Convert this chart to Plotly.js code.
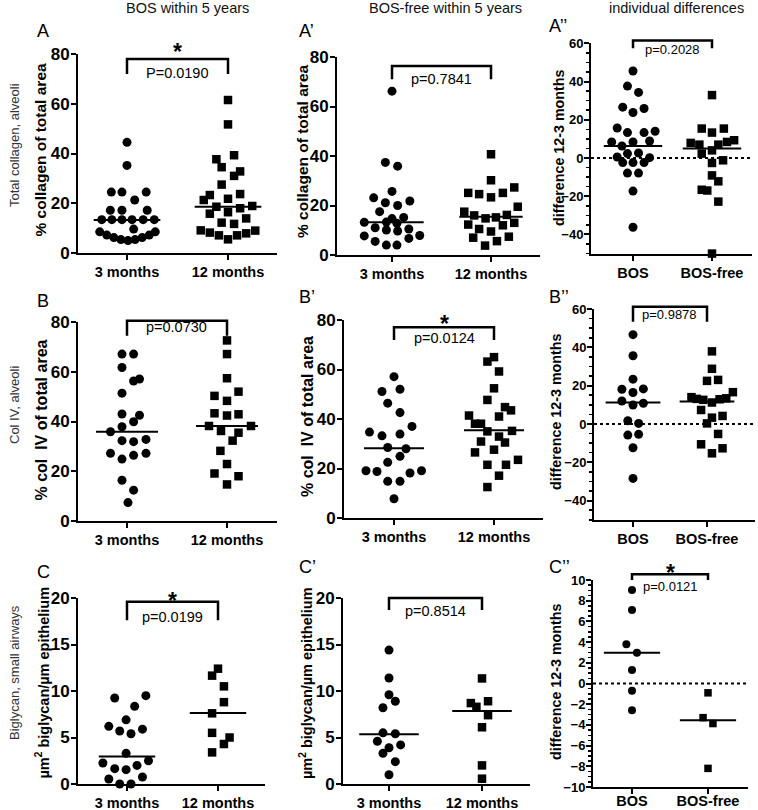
<!DOCTYPE html>
<html><head><meta charset="utf-8">
<script src="https://cdn.plot.ly/plotly-3.0.1.min.js"></script>
<style>body{margin:0;background:#fff}#chart{width:758px;height:810px}</style>
</head><body><div id="chart"></div>
<script>
// ---------- DATA ----------
const catsTime = ['3 months', '12 months'];
const catsDiff = ['BOS', 'BOS-free'];
const colHeaders = ['BOS within 5 years', 'BOS-free within 5 years', 'individual differences'];
const rowLabels = ['Total collagen, alveoli', 'Col IV, alveoli', 'Biglycan, small airways'];

// Row A: total collagen (% of total area)
const A_3m    = [44.5,35.2,24.5,24.5,24.5,21.3,17.2,17.2,17.2,13.4,13.4,13.4,13.4,13.4,13.4,9.6,8.5,7.2,6.2,5.4,5.0,5.4,6.2,7.2,8.5];
const A_3m_dx = [0,0,-0.155,-0.05,0.19,0.076,-0.165,-0.05,0.2,-0.25,-0.15,-0.05,0.05,0.16,0.27,0.066,-0.27,-0.2,-0.13,-0.06,0.01,0.08,0.15,0.22,0.28];
const A_12m    = [61.5,51.7,39.3,37.7,34.5,32.8,31.0,27.5,23.3,23.7,21.3,21.8,18.6,18.0,18.9,15.8,16.4,13.9,12.2,11.7,9.1,8.2,7.1,5.5,7.1,7.9,9.0];
const A_12m_dx = [0,0,0.06,-0.115,-0.063,0.12,0.06,-0.063,-0.18,0.12,-0.24,0,-0.115,0.12,0.24,-0.18,0,0.18,-0.063,0.06,-0.27,-0.18,-0.09,0,0.09,0.18,0.27];
const A_med = [13.3, 18.6];
const A_p = 'P=0.0190';

const A1_3m    = [66.2,37.4,35.9,23.1,25.7,21.1,20.0,21.8,17.5,14.7,15.2,13.2,11.0,13.3,12.8,10.5,7.7,10.1,9.7,6.7,7.9,5.5,4.0,4.0];
const A1_3m_dx = [0,-0.067,0.057,-0.185,0,-0.067,0.057,0.18,-0.125,0,0.118,-0.28,-0.17,-0.057,0.05,0.17,-0.28,-0.057,0.057,0.17,0.28,-0.17,-0.057,0.05];
const A1_12m    = [40.7,30.2,25.1,24.6,23.3,25.1,27.3,17.5,16.0,14.8,15.2,16.2,19.5,12.3,10.5,9.5,12.0,13.0,7.0,5.6,7.4,3.8];
const A1_12m_dx = [0,0,-0.23,-0.12,0,0.12,0.235,-0.27,-0.17,-0.055,0.05,0.16,0.27,-0.23,-0.12,0,0.12,0.235,-0.18,0.06,0.18,-0.06];
const A1_med = [13.2, 15.5];
const A1_p = 'p=0.7841';

const A2_bos    = [45.5,37.6,34.3,26.6,23.8,25.9,15.7,13.3,13.3,14.0,8.4,6.3,8.4,8.9,0.5,2.3,2.6,0.2,-2.4,-2.4,-2.4,-7.9,-7.9,-17.3,-36.2];
const A2_bos_dx = [0,-0.07,0.07,-0.13,0,0.14,-0.2,-0.07,0.14,0.28,-0.27,-0.14,0,0.21,-0.2,-0.07,0.07,0.21,-0.13,0,0.14,-0.07,0.07,0,0];
const A2_free    = [32.9,15.4,15.4,13.3,7.9,7.0,7.0,8.4,9.3,2.3,4.0,-1.2,-2.6,-9.1,-12.2,-16.6,-17.0,-22.8,-50.0];
const A2_free_dx = [0,-0.13,0.15,0,-0.27,-0.16,0.08,0.19,0.28,-0.13,0,0.14,0,0,0.08,-0.13,-0.06,0.08,0];
const A2_med = [6.3, 5.0];
const A2_p = 'p=0.2028';

// Row B: Col IV (% of total area)
const B_3m    = [67.1,67.1,61.7,56.3,57.1,51.4,43.0,42.5,39.9,37.9,35.9,32.3,31.9,32.8,27.2,26.4,27.2,24.9,16.4,12.4,7.4];
const B_3m_dx = [-0.05,0.066,-0.05,0.066,0.125,-0.05,-0.05,0.125,0.066,-0.05,-0.165,-0.05,0.066,0.19,-0.165,0.066,0.19,-0.05,-0.05,0.066,0.01];
const B_12m    = [72.6,67.1,57.4,50.3,52.0,48.3,43.3,42.4,42.9,38.2,38.2,36.2,35.5,32.3,28.2,22.9,19.1,18.0,14.7];
const B_12m_dx = [0,0,0,-0.125,0.115,0,-0.125,0,0.115,-0.18,0.24,-0.06,0.115,0.056,-0.066,0,-0.125,0.115,0];
const B_med = [35.9, 38.2];
const B_p = 'p=0.0730';

const B1_3m    = [57.1,51.1,52.0,46.4,42.6,37.0,34.7,33.2,33.9,28.5,28.0,24.9,22.5,19.1,18.8,18.2,19.1,14.8,14.8,7.8];
const B1_3m_dx = [0,-0.12,0.06,-0.063,0.06,0.18,-0.245,-0.12,0.06,-0.063,0.12,0.06,-0.063,-0.28,-0.17,0.16,0.275,-0.063,0.06,0];
const B1_12m    = [65.0,63.2,59.2,52.4,47.7,44.8,43.5,41.4,41.0,38.1,38.1,35.0,35.2,32.9,30.9,30.5,27.6,26.5,23.5,21.5,21.5,17.1,12.5];
const B1_12m_dx = [0,-0.066,0.05,0,-0.066,0.11,0.17,-0.25,0.05,-0.19,-0.13,-0.066,0.18,0.05,-0.13,0.11,0,-0.19,0.24,-0.066,0.12,0.05,-0.066];
const B1_med = [28.2, 35.5];
const B1_p = 'p=0.0124';

const B2_bos    = [46.6,35.6,23.4,18.1,18.3,16.4,12.0,9.9,10.8,1.7,0.3,-5.8,-5.4,-12.4,-28.4];
const B2_bos_dx = [0,0,0,-0.15,0.14,0,-0.15,0,0.14,-0.07,0.076,-0.07,0.076,0,0];
const B2_free    = [37.9,28.8,22.5,23.0,14.0,13.1,12.6,11.2,12.9,13.4,16.6,7.3,3.3,4.2,0.3,-5.2,-10.6,-12.7,-15.3];
const B2_free_dx = [0.067,0.067,0,0.15,-0.21,-0.14,-0.05,0.067,0.17,0.26,0.35,-0.08,0.067,0.21,0,0.15,-0.08,0.21,0.067];
const B2_med = [11.2, 11.7];
const B2_p = 'p=0.9878';

// Row C: biglycan (µm² / µm epithelium)
const C_3m    = [9.25,9.5,8.35,6.9,6.2,5.7,5.4,5.9,3.3,2.26,2.5,1.65,1.54,2.0,0.54,0.75,0.0,0.0];
const C_3m_dx = [-0.135,0.207,0.084,-0.01,-0.2,-0.08,0.044,0.17,-0.01,-0.265,0.236,-0.135,-0.01,0.11,-0.2,0.17,-0.08,0.044];
const C_12m    = [12.4,11.65,10.5,8.8,7.6,5.5,5.0,4.3,3.4];
const C_12m_dx = [0,-0.065,0.065,0.065,-0.065,-0.065,0.127,0.065,-0.065];
const C_med = [2.97, 7.63];
const C_p = 'p=0.0199';

const C1_3m    = [14.4,11.4,9.6,8.9,8.2,5.5,5.4,4.6,4.2,3.9,3.3,2.4,1.0];
const C1_3m_dx = [0,0,0,0.068,-0.065,-0.065,0.068,-0.125,0.125,0,-0.065,0.068,0];
const C1_12m    = [11.35,8.7,8.3,8.9,7.4,6.1,2.0,0.57];
const C1_12m_dx = [0,-0.12,-0.06,0.065,0.065,0,0,0];
const C1_med = [5.36, 7.86];
const C1_p = 'p=0.8514';

const C2_bos    = [9.03,7.1,3.8,2.97,1.3,-0.7,-2.58];
const C2_bos_dx = [0,0,-0.074,0.065,0,0,0];
const C2_free    = [-0.9,-3.3,-3.87,-8.2];
const C2_free_dx = [0,-0.065,0.065,0];
const C2_med = [2.97, -3.55];
const C2_p = 'p=0.0121';

// ---------- LAYOUT GEOMETRY ----------
const W = 758, H = 810;
const FONT = 'Arial, "Liberation Sans", sans-serif';
const T1 = '% collagen of total area';
const T2 = '% col\u00a0 IV of total area';
const T3 = 'µm<sup>2</sup> biglycan/µm epithelium';
const TD = 'difference 12-3 months';

const panels = [
 {lab:'A',      ax:78,  xe:277, c1:127, c2:228, yt:54,   yb:253,   r:[0,80],   dt:20, cats:catsTime, g1:A_3m,  d1:A_3m_dx,  g2:A_12m,  d2:A_12m_dx,  med:A_med,  p:A_p,  br:[78,72],   pY:72.3, star:83.2, title:T1, tsz:15.5, tpos:[40.5,150], ysz:17, mh:0.33},
 {lab:'A\u2019',ax:337, xe:540, c1:392, c2:491, yt:57,   yb:255,   r:[0,80],   dt:20, cats:catsTime, g1:A1_3m, d1:A1_3m_dx, g2:A1_12m, d2:A1_12m_dx, med:A1_med, p:A1_p, br:[76.4,71], pY:71.3, star:null, title:T1, tsz:15.5, tpos:[302,151], ysz:17, mh:0.32},
 {lab:'A\u2019\u2019',ax:591, xe:752, c1:633, c2:712, yt:43.3, yb:253.6, r:[-50,60], dt:20, minor:5, diff:true, cats:catsDiff, g1:A2_bos, d1:A2_bos_dx, g2:A2_free, d2:A2_free_dx, med:A2_med, p:A2_p, br:[61.4,57.4], pY:56.5, star:null, title:TD, tsz:14.3, tpos:[559,148], ysz:13, mh:0.37},
 {lab:'B',      ax:78,  xe:277, c1:127, c2:227, yt:322,  yb:521,   r:[0,80],   dt:20, cats:catsTime, g1:B_3m,  d1:B_3m_dx,  g2:B_12m,  d2:B_12m_dx,  med:B_med,  p:B_p,  br:[80.5,74.5], pY:77.9, star:null, title:T2, tsz:16, tpos:[40.5,420], ysz:17, mh:0.31},
 {lab:'B\u2019',ax:344, xe:543, c1:394, c2:494, yt:320,  yb:518,   r:[0,80],   dt:20, cats:catsTime, g1:B1_3m, d1:B1_3m_dx, g2:B1_12m, d2:B1_12m_dx, med:B1_med, p:B1_p, br:[77.1,71.9], pY:72.6, star:80.8, title:T2, tsz:16, tpos:[307,417], ysz:17, mh:0.3},
 {lab:'B\u2019\u2019',ax:594, xe:755, c1:633, c2:707, yt:309, yb:519.8, r:[-50,60], dt:20, minor:5, diff:true, cats:catsDiff, g1:B2_bos, d1:B2_bos_dx, g2:B2_free, d2:B2_free_dx, med:B2_med, p:B2_p, br:[61.2,53.4], pY:56.9, star:null, title:TD, tsz:14.3, tpos:[556,412], ysz:13, mh:0.37},
 {lab:'C',      ax:78,  xe:265, c1:127, c2:218, yt:598,  yb:784,   r:[0,20],   dt:5,  cats:catsTime, g1:C_3m,  d1:C_3m_dx,  g2:C_12m,  d2:C_12m_dx,  med:C_med,  p:C_p,  br:[19.6,17.6], pY:18.0, star:20.3, title:T3, tsz:14.5, tpos:[42.5,683], ysz:17, mh:0.31},
 {lab:'C\u2019',ax:343, xe:530, c1:389, c2:482, yt:598,  yb:784,   r:[0,20],   dt:5,  cats:catsTime, g1:C1_3m, d1:C1_3m_dx, g2:C1_12m, d2:C1_12m_dx, med:C1_med, p:C1_p, br:[20.0,18.7], pY:18.6, star:null, title:T3, tsz:14.5, tpos:[306,683], ysz:17, mh:0.32},
 {lab:'C\u2019\u2019',ax:593, xe:748, c1:632, c2:708, yt:580, yb:787, r:[-10,10], dt:2, minor:0.5, diff:true, cats:catsDiff, g1:C2_bos, d1:C2_bos_dx, g2:C2_free, d2:C2_free_dx, med:C2_med, p:C2_p, br:[10.55,10.0], pY:9.4, star:11.2, title:TD, tsz:14.3, tpos:[556,682], ysz:13, mh:0.37, small:true}
];

const traces = [], shapes = [], annotations = [];
const layout = {width:W, height:H, margin:{l:0,r:0,t:0,b:0}, showlegend:false,
  paper_bgcolor:'#fff', plot_bgcolor:'rgba(0,0,0,0)', font:{family:FONT, color:'#000'},
  shapes, annotations};

panels.forEach((p, i) => {
  const n = i + 1, sx = n === 1 ? '' : String(n);
  const per = p.c2 - p.c1;
  const xr = [1 - (p.c1 - p.ax) / per, 2 + (p.xe - p.c2) / per];
  const xd = [p.ax / W, p.xe / W];
  const yd = [1 - p.yb / H, 1 - p.yt / H];
  const px = v => xd[0] + (v - xr[0]) / (xr[1] - xr[0]) * (xd[1] - xd[0]);
  const py = v => yd[0] + (v - p.r[0]) / (p.r[1] - p.r[0]) * (yd[1] - yd[0]);

  layout['xaxis' + sx] = {domain:xd, range:xr, anchor:'y' + sx, showline:true, linewidth:2, linecolor:'#000',
    ticks:'outside', ticklen:5, tickwidth:2, tickcolor:'#000', tickvals:[1,2], ticktext:p.cats,
    ticklabelstandoff: p.small ? -5 : 0,
    tickfont:{family:FONT, size:14.5, weight:'bold', color:'#000'}, showgrid:false, zeroline:false, fixedrange:true};
  const ya = {domain:yd, range:p.r, anchor:'x' + sx, showline:true, linewidth:2, linecolor:'#000',
    ticks:'outside', ticklen:5, tickwidth:2, tickcolor:'#000', dtick:p.dt, tick0:0, ticklabelstandoff:-2,
    tickfont:{family:FONT, size:p.ysz, weight:'bold', color:'#000'}, showgrid:false, zeroline:false, fixedrange:true};
  if (p.minor) ya.minor = {dtick:p.minor, ticks:'outside', ticklen:3, tickwidth:1.5, tickcolor:'#000', showgrid:false};
  layout['yaxis' + sx] = ya;

  // y-axis title (rotated text placed beside the axis)
  annotations.push({xref:'paper', yref:'paper', x:p.tpos[0]/W, y:1-p.tpos[1]/H, text:'<b>' + p.title + '</b>',
    textangle:-90, showarrow:false, xanchor:'center', yanchor:'middle',
    font:{family:FONT, size:p.tsz, color:'#000'}});

  const ms1 = p.small ? 8 : 9, ms2 = p.small ? 7.5 : 8.5;
  if (p.diff) {
    traces.push({type:'scatter', mode:'lines', xaxis:'x'+sx, yaxis:'y'+sx, x:[xr[0], xr[1]], y:[0,0],
      line:{color:'#000', width:2, dash:'dot'}, hoverinfo:'skip'});
  }
  traces.push({type:'scatter', mode:'markers', xaxis:'x'+sx, yaxis:'y'+sx, cliponaxis:false,
    x:p.g1.map((v, k) => 1 + p.d1[k]), y:p.g1, marker:{symbol:'circle', size:ms1, color:'#000'}});
  traces.push({type:'scatter', mode:'markers', xaxis:'x'+sx, yaxis:'y'+sx, cliponaxis:false,
    x:p.g2.map((v, k) => 2 + p.d2[k]), y:p.g2, marker:{symbol:'square', size:ms2, color:'#000'}});
  [1, 2].forEach((c, k) => {
    traces.push({type:'scatter', mode:'lines', xaxis:'x'+sx, yaxis:'y'+sx,
      x:[c - p.mh, c + p.mh], y:[p.med[k], p.med[k]], line:{color:'#000', width:2}, hoverinfo:'skip'});
  });

  // significance bracket
  shapes.push({type:'path', xref:'paper', yref:'paper',
    path:`M ${px(1)},${py(p.br[1])} L ${px(1)},${py(p.br[0])} L ${px(2)},${py(p.br[0])} L ${px(2)},${py(p.br[1])}`,
    line:{color:'#000', width:2.5}});
  annotations.push({xref:'paper', yref:'paper', x:px(1.5), y:py(p.pY), text:p.p, showarrow:false,
    xanchor:'center', yanchor:'middle', font:{family:FONT, size:p.diff ? 13 : 14.5, color:'#000'}});
  if (p.star !== null) {
    annotations.push({xref:'paper', yref:'paper', x:px(1.5), y:py(p.star), text:'<b>*</b>', showarrow:false,
      height:15, valign:'top',
      xanchor:'center', yanchor:'middle', font:{family:FONT, size:23, color:'#000'}});
  }
});

// panel letters
const letterPos = [[35,31],[297,31],[547,26],[35,301],[297,297],[547,297],[35,572],[297,567],[547,567]];
panels.forEach((p, i) => {
  annotations.push({xref:'paper', yref:'paper', x:letterPos[i][0]/W, y:1-letterPos[i][1]/H, text:p.lab,
    showarrow:false, xanchor:'left', yanchor:'middle', font:{family:FONT, size:18, color:'#000'}});
});
// column headers
[187, 445, 676].forEach((x, i) => {
  annotations.push({xref:'paper', yref:'paper', x:x/W, y:1-8/H, text:colHeaders[i], showarrow:false,
    xanchor:'center', yanchor:'middle', font:{family:FONT, size:14.5, color:'#111'}});
});
// row labels
[145, 405, 673].forEach((y, i) => {
  annotations.push({xref:'paper', yref:'paper', x:14/W, y:1-y/H, text:rowLabels[i], showarrow:false,
    textangle:-90, xanchor:'center', yanchor:'middle', font:{family:FONT, size:13, color:'#333'}});
});

Plotly.newPlot('chart', traces, layout, {staticPlot:true, displayModeBar:false});
</script>
</body></html>
